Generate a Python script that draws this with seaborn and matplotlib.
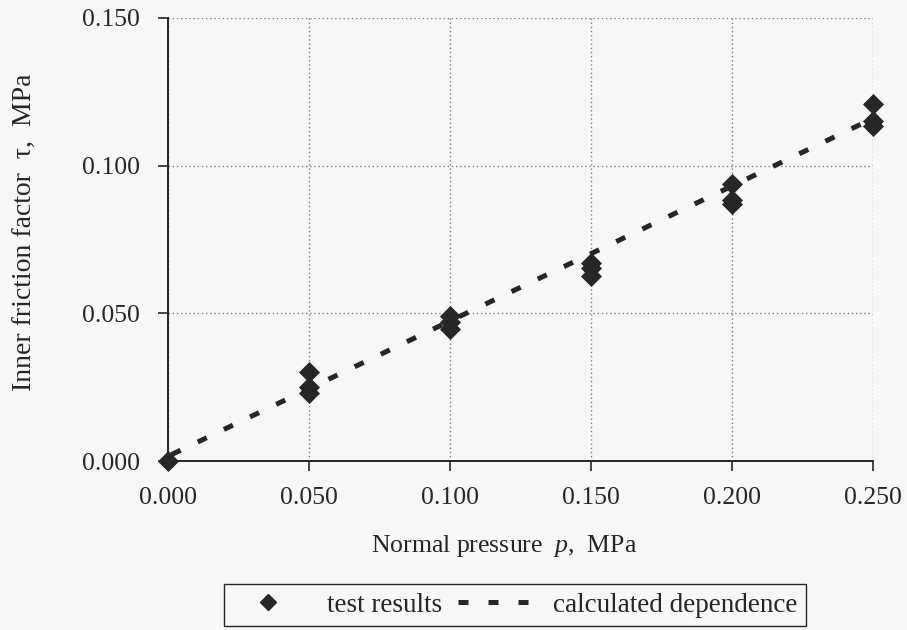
import matplotlib
matplotlib.use("Agg")
import matplotlib.pyplot as plt
import seaborn as sns
import pandas as pd
from matplotlib.lines import Line2D

# ---- data ----
p_test = [0.0, 0.05, 0.05, 0.05, 0.10, 0.10, 0.10, 0.15, 0.15, 0.15,
          0.20, 0.20, 0.20, 0.25, 0.25, 0.25]
tau_test = [0.0, 0.030, 0.025, 0.023, 0.049, 0.047, 0.0446, 0.0672, 0.0652, 0.0628,
            0.0939, 0.0885, 0.0870, 0.121, 0.1152, 0.1135]

p_calc = [0.0, 0.05, 0.10, 0.15, 0.20, 0.25]
tau_calc = [0.0016, 0.0245, 0.0474, 0.0702, 0.0931, 0.116]

x_ticks = [0.0, 0.05, 0.10, 0.15, 0.20, 0.25]
x_tick_labels = ["0.000", "0.050", "0.100", "0.150", "0.200", "0.250"]
y_ticks = [0.0, 0.05, 0.10, 0.15]
y_tick_labels = ["0.000", "0.050", "0.100", "0.150"]

legend_labels = ["test results", "calculated dependence"]
x_label = "Normal pressure  $p$,  MPa"
y_label = "Inner friction factor  τ,  MPa"

# ---- style ----
sns.set_theme(style="ticks")
plt.rcParams["font.family"] = ["Liberation Serif", "DejaVu Serif"]
plt.rcParams["mathtext.fontset"] = "custom"
plt.rcParams["mathtext.it"] = "Liberation Serif:italic"
plt.rcParams["mathtext.rm"] = "Liberation Serif"

bg = "#f7f7f5"
ink = "#262626"

fig = plt.figure(figsize=(9.07, 6.3), dpi=100, facecolor=bg)
ax = fig.add_axes([168 / 907, 1 - 461 / 630, 705 / 907, 443 / 630])
ax.set_facecolor(bg)

test_df = pd.DataFrame({"p": p_test, "tau": tau_test})
calc_df = pd.DataFrame({"p": p_calc, "tau": tau_calc})

sns.lineplot(data=calc_df, x="p", y="tau", ax=ax, color=ink, linewidth=3.6,
             legend=False, zorder=3)
calc_line = ax.lines[-1]
calc_line.set_linestyle((5.0, (2.0, 3.8)))

sns.scatterplot(data=test_df, x="p", y="tau", ax=ax, marker="D", s=115,
                color=ink, edgecolor=ink, linewidth=0, clip_on=False, zorder=5,
                legend=False)

ax.set_xlim(0, 0.25)
ax.set_ylim(0, 0.15)
ax.set_xticks(x_ticks)
ax.set_xticklabels(x_tick_labels)
ax.set_yticks(y_ticks)
ax.set_yticklabels(y_tick_labels)

ax.grid(True, linestyle=(0, (1, 2)), color="#808080", linewidth=1.0, zorder=1)
ax.set_axisbelow(True)
for s in ["top", "right"]:
    ax.spines[s].set_visible(False)
for s in ["left", "bottom"]:
    ax.spines[s].set_color(ink)
    ax.spines[s].set_linewidth(1.4)

ax.tick_params(axis="both", direction="out", length=7, width=1.2, color=ink,
               labelsize=18.5, labelcolor=ink)
ax.tick_params(axis="y", pad=13)
ax.tick_params(axis="x", pad=12)

ax.set_xlabel(x_label, fontsize=18.5, color=ink)
ax.set_ylabel(y_label, fontsize=20, color=ink)
ax.xaxis.set_label_coords((504 - 168) / 705, (461 - 533) / 443)
ax.yaxis.set_label_coords((38 - 168) / 705, (461 - 232) / 443)

handles = [
    Line2D([], [], marker="D", linestyle="none", color=ink, markersize=8),
    Line2D([], [], color=ink, linewidth=3.6, linestyle=(0, (2.0, 4.0))),
]
leg = fig.legend(handles, legend_labels, loc="center",
                 bbox_to_anchor=(515 / 907, 1 - 605 / 630), ncol=2,
                 frameon=True, fancybox=False, fontsize=19.5,
                 handlelength=2.6, handletextpad=0.9, columnspacing=0.6,
                 borderpad=0.3, facecolor=bg, framealpha=1)
leg.get_frame().set_edgecolor(ink)
leg.get_frame().set_linewidth(1.0)
for t in leg.get_texts():
    t.set_color(ink)

fig.savefig("out.png", dpi=100, facecolor=bg)
